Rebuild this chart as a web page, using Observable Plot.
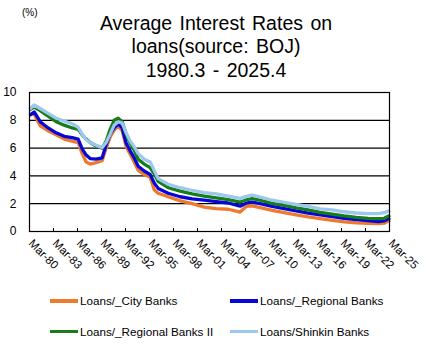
<!DOCTYPE html>
<html>
<head>
<meta charset="utf-8">
<script src="https://cdn.jsdelivr.net/npm/d3@7"></script>
<script src="https://cdn.jsdelivr.net/npm/@observablehq/plot@0.6"></script>
<style>
  html, body { margin: 0; padding: 0; background: #fff; }
  #wrap { position: relative; width: 426px; height: 357px; overflow: hidden; font-family: Arial, "Liberation Sans", sans-serif; color: #000; }
  #unit { position: absolute; left: 22px; top: 8px; font-size: 10px; line-height: 10px; }
  #title { position: absolute; left: 3px; top: 12px; width: 426px; text-align: center; font-size: 19.5px; line-height: 23.3px; word-spacing: 2px; }
  #chart { position: absolute; left: 0; top: 80px; }
  .leg { position: absolute; font-size: 11.7px; line-height: 14px; white-space: nowrap; }
  .sw { position: absolute; width: 28px; height: 3.5px; }
</style>
</head>
<body>
<div id="wrap">
  <div id="unit">(%)</div>
  <div id="title">Average Interest Rates on<br>loans(source:  BOJ)<br>1980.3 - 2025.4</div>
  <div id="chart"></div>
  <div id="legend"></div>
</div>
<script>
// ---- data ----
const dates = ["1980-03","1980-10","1981-07","1982-07","1983-07","1984-07","1985-07","1986-04","1986-10","1987-04","1987-10","1988-07","1989-04","1989-10","1990-04","1990-10","1991-04","1991-10","1992-04","1992-10","1993-04","1993-10","1994-07","1995-04","1995-10","1996-04","1997-07","1999-01","2000-07","2002-01","2003-07","2005-01","2006-07","2007-04","2008-01","2009-01","2010-07","2012-01","2013-07","2015-01","2016-07","2018-01","2019-07","2021-01","2022-07","2023-10","2024-07","2025-04"];

const cityBanks = [8.4,8.45,7.6,7.25,6.95,6.65,6.5,6.4,5.6,5.0,4.85,4.95,5.1,6.0,6.8,7.3,7.6,7.25,6.1,5.55,5.0,4.4,4.1,3.9,3.0,2.75,2.5,2.2,2.0,1.75,1.65,1.6,1.4,1.8,1.85,1.72,1.52,1.35,1.2,1.05,0.93,0.8,0.7,0.62,0.58,0.56,0.6,0.82];
const regionalBanks = [8.35,8.6,7.9,7.45,7.1,6.85,6.75,6.65,5.95,5.5,5.25,5.2,5.3,6.25,7.0,7.45,7.75,7.45,6.35,5.8,5.3,4.7,4.35,4.1,3.5,3.1,2.75,2.5,2.35,2.25,2.15,2.05,1.82,2.04,2.12,2.0,1.8,1.65,1.48,1.33,1.2,1.07,0.94,0.85,0.78,0.72,0.76,0.98];
const regionalBanksII = [8.75,8.95,8.7,8.3,7.9,7.65,7.45,7.35,6.95,6.65,6.4,6.15,6.0,6.5,7.35,8.0,8.15,7.9,7.0,6.35,5.85,5.2,4.85,4.6,4.15,3.6,3.15,2.9,2.7,2.55,2.42,2.3,2.12,2.27,2.36,2.25,2.02,1.88,1.7,1.55,1.37,1.25,1.12,1.02,0.95,0.92,0.95,1.18];
const shinkinBanks = [8.8,9.1,8.85,8.5,8.15,7.95,7.75,7.5,7.0,6.6,6.4,6.2,6.05,6.4,7.0,7.65,7.9,7.8,7.1,6.5,6.1,5.6,5.2,5.0,4.4,3.8,3.4,3.15,2.95,2.8,2.7,2.55,2.38,2.53,2.62,2.48,2.25,2.1,1.95,1.8,1.63,1.55,1.42,1.33,1.28,1.28,1.35,1.52];

const seriesNames = ["Loans/_City Banks", "Loans/_Regional Banks", "Loans/_Regional Banks II", "Loans/Shinkin Banks"];
const seriesColors = ["#EE7A2E", "#0606D8", "#177D1A", "#9CC8EE"];
const seriesValues = [cityBanks, regionalBanks, regionalBanksII, shinkinBanks];

const xTickLabels = ["Mar-80","Mar-83","Mar-86","Mar-89","Mar-92","Mar-95","Mar-98","Mar-01","Mar-04","Mar-07","Mar-10","Mar-13","Mar-16","Mar-19","Mar-22","Mar-25"];
const yTicks = [0, 2, 4, 6, 8, 10];

// ---- build ----
const parseMonth = d3.utcParse("%Y-%m");
const parseTick = d3.utcParse("%b-%y");
const tickDates = xTickLabels.map(parseTick);

const rows = seriesNames.flatMap((name, s) =>
  dates.map((d, i) => ({ date: parseMonth(d), value: seriesValues[s][i], name }))
);

const chart = Plot.plot({
  width: 426,
  height: 200,
  marginTop: 12,
  marginLeft: 29,
  marginRight: 37,
  marginBottom: 49,
  style: { fontFamily: "Arial, 'Liberation Sans', sans-serif", fontSize: "12px", color: "#000", background: "transparent", overflow: "visible" },
  x: { type: "utc", domain: [tickDates[0], tickDates[tickDates.length - 1]] },
  y: { domain: [0, 10] },
  color: { domain: seriesNames, range: seriesColors },
  marks: [
    Plot.ruleY(yTicks.filter(v => v > 0 && v < 10), { stroke: "#000", strokeWidth: 1.2 }),
    Plot.ruleX(tickDates, { y1: 0, y2: 0, insetTop: -3, stroke: "#000", strokeWidth: 1 }),
    Plot.line(rows, { x: "date", y: "value", z: "name", stroke: "name", strokeWidth: 3.3, strokeLinejoin: "round", strokeLinecap: "butt" }),
    Plot.frame({ stroke: "#000", strokeWidth: 1.2 }),
    Plot.axisY({ ticks: yTicks, tickSize: 0, tickPadding: 13, label: null, fontSize: 12 }),
    Plot.axisX({ ticks: tickDates, tickFormat: (d, i) => xTickLabels[i], tickSize: 0, tickPadding: 10, dx: 1, tickRotate: 45, label: null, fontSize: 11.5 })
  ]
});
document.getElementById("chart").appendChild(chart);

// ---- legend ----
const legend = document.getElementById("legend");
const legPos = [[50, 301], [230, 301], [50, 331.5], [230, 331.5]];
seriesNames.forEach((name, i) => {
  const [lx, ly] = legPos[i];
  const sw = document.createElement("div");
  sw.className = "sw";
  sw.style.left = lx + "px";
  sw.style.top = (ly - 1.75) + "px";
  sw.style.background = seriesColors[i];
  legend.appendChild(sw);
  const t = document.createElement("div");
  t.className = "leg";
  t.style.left = (lx + 30) + "px";
  t.style.top = (ly - 7) + "px";
  t.textContent = name;
  legend.appendChild(t);
});
</script>
</body>
</html>
